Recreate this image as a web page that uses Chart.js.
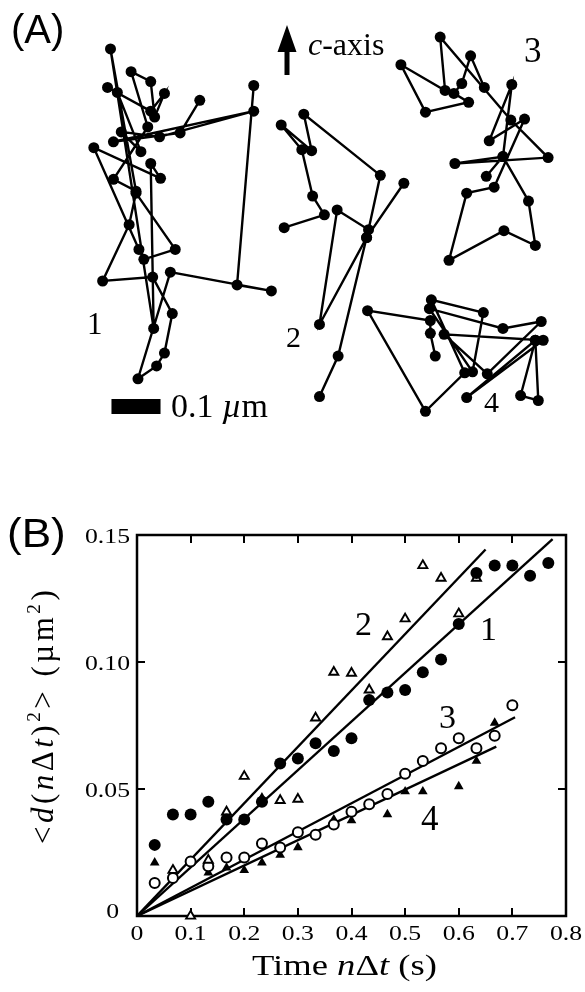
<!DOCTYPE html>
<html>
<head>
<meta charset="utf-8">
<script src="https://cdn.jsdelivr.net/npm/chart.js@4.4.1/dist/chart.umd.min.js"></script>
<style>
    html, body { margin: 0; padding: 0; background: #fff; }
    #wrap { position: relative; width: 585px; height: 992px; }
    canvas { position: absolute; left: 0; top: 0; }
</style>
</head>
<body>
<div id="wrap">
    <canvas id="tracks" width="585" height="992"></canvas>
    <canvas id="msd" width="585" height="992"></canvas>
</div>
<script>
// (A) single particle tracks, positions in nm (x across, y down the page)
const track1 = [[396,192],[356,258],[220,276],[506,214],[314,266],[236,256],[276,296],[228,176],[208,166],[296,214],
    [324,178],[304,226],[296,154],[256,134],[290,246],[220,352],[266,376],[214,88],[302,654],[296,320],[316,350],
    [180,288],[272,494],[282,514],[346,494],[266,380],[252,444],[198,558],[300,550],[340,624],[324,704],[308,730],
    [270,756],[336,540],[542,578],[472,566],[506,162]];
const track2 = [[568,450],[650,424],[626,386],[604,292],[562,242],[624,294],[608,220],[764,344],[740,454],[676,414],
    [640,646],[736,470],[812,360]];
const track2b = [[736,470],[678,710],[640,792]];
const track3 = [[976,166],[948,102],[930,158],[914,178],[944,196],[856,216],[806,120],[896,172],[886,64],[1030,232],
    [1106,308],[916,320],[1014,306],[1032,160],[986,274],[1058,230],[996,368],[940,380],[904,516],[1016,456],
    [1080,486],[1066,396],[1014,306],[980,346]];
const track4 = [[876,710],[866,664],[866,638],[738,618],[856,822],[936,744],[868,596],[974,622],[952,742],[864,614],
    [1014,654],[1092,640],[982,746],[894,666],[1096,678],[940,794],[1080,678],[1050,790],[1086,800],[1080,678]];
const scaleBarNm = 100;

// (B) mean square displacement vs time lag
const lagTimes = [0.033,0.067,0.100,0.133,0.167,0.200,0.233,0.267,0.300,0.333,0.367,0.400,
    0.433,0.467,0.500,0.533,0.567,0.600,0.633,0.667,0.700,0.733,0.767];
const msd1 = [0.028,0.040,0.040,0.045,0.038,0.038,0.045,0.060,0.062,0.068,0.065,0.070,
    0.085,0.088,0.089,0.096,0.101,0.115,0.135,0.138,0.138,0.134,0.139];
const msd2 = [null,0.018,0.000,0.022,0.041,0.055,0.046,0.0455,0.046,0.078,0.096,0.0956,
    0.089,0.110,0.117,0.138,0.133,0.119,0.133,null,null,null,null];
const msd3 = [0.013,0.015,0.0215,0.0196,0.023,0.023,0.0285,0.027,0.033,0.032,0.036,0.041,
    0.044,0.048,0.056,0.061,0.066,0.070,0.066,0.071,0.083,null,null];
const msd4 = [0.021,0.017,null,0.017,0.019,0.018,0.021,0.024,0.027,null,0.038,0.0376,
    null,0.040,0.049,0.049,null,0.051,0.061,0.076,null,null,null];
const fitSlope = [0.1915, 0.222, 0.111, 0.0995];
const fitEnd = [0.775, 0.65, 0.705, 0.67];

const SERIF = '"Liberation Serif", "Times New Roman", serif';
const SANS = '"Liberation Sans", Arial, sans-serif';

function drawRuns(ctx, runs, x, y, size, family, opts = {}) {
    ctx.save();
    ctx.translate(x, y);
    if (opts.rotate) ctx.rotate(opts.rotate);
    ctx.scale(opts.sx || 1, opts.sy || 1);
    ctx.fillStyle = '#000';
    ctx.textAlign = 'left';
    ctx.textBaseline = 'alphabetic';
    let cx = 0;
    runs.forEach(r => {
        const s = r.sup ? size * 0.62 : size;
        ctx.font = (r.it ? 'italic ' : '') + s + 'px ' + family;
        ctx.fillText(r.t, cx, r.sup ? -size * 0.42 : 0);
        cx += ctx.measureText(r.t).width + (opts.gap || 0);
    });
    ctx.restore();
}

function toPoints(track) {
    return track.map(p => ({x: p[0], y: p[1]}));
}

// ---------- panel A ----------
const trackDecor = {
    id: 'trackDecor',
    afterDraw(chart) {
        const ctx = chart.ctx;
        const xs = chart.scales.x;
        ctx.save();
        ctx.fillStyle = '#000';
        // c-axis arrow
        ctx.beginPath();
        ctx.moveTo(287, 25);
        ctx.lineTo(296.5, 52);
        ctx.lineTo(289.5, 52);
        ctx.lineTo(289.5, 75);
        ctx.lineTo(284.5, 75);
        ctx.lineTo(284.5, 52);
        ctx.lineTo(277.5, 52);
        ctx.closePath();
        ctx.fill();
        // scale bar
        const x0 = xs.getPixelForValue(216);
        const x1 = xs.getPixelForValue(216 + scaleBarNm);
        ctx.fillRect(x0, 399, x1 - x0, 15);
        ctx.restore();

        drawRuns(ctx, [{t: '(A)'}], 11, 43, 40, SANS);
        drawRuns(ctx, [{t: 'c', it: true}, {t: '-axis'}], 308, 55, 32, SERIF);
        drawRuns(ctx, [{t: '3'}], 524, 62, 35, SERIF);
        drawRuns(ctx, [{t: '1'}], 87, 334, 31, SERIF);
        drawRuns(ctx, [{t: '2'}], 286, 347, 30, SERIF);
        drawRuns(ctx, [{t: '4'}], 484, 412, 30, SERIF);
        drawRuns(ctx, [{t: '0.1 '}, {t: 'µ', it: true}, {t: 'm'}], 171, 417, 34, SERIF);
    }
};

const trackSets = [track1, track2, track2b, track3, track4].map(t => ({
    data: toPoints(t),
    showLine: true,
    borderColor: '#000',
    borderWidth: 2.4,
    pointRadius: 5.5,
    pointBackgroundColor: '#000',
    pointBorderWidth: 0,
    clip: false
}));

new Chart(document.getElementById('tracks'), {
    type: 'scatter',
    data: {datasets: trackSets},
    options: {
        responsive: false,
        animation: false,
        layout: {padding: {left: 0, right: 0, top: 0, bottom: 552}},
        plugins: {legend: {display: false}, tooltip: {enabled: false}},
        scales: {
            x: {display: false, min: 0, max: 1170},
            y: {display: false, min: 0, max: 880, reverse: true}
        }
    },
    plugins: [trackDecor]
});

// ---------- panel B ----------
function series(values, style) {
    const pts = [];
    values.forEach((v, i) => { if (v !== null) pts.push({x: lagTimes[i], y: v}); });
    return Object.assign({data: pts, showLine: false, order: 1, clip: false}, style);
}

const fitSets = fitSlope.map((k, i) => ({
    data: [{x: 0, y: 0}, {x: fitEnd[i], y: k * fitEnd[i]}],
    showLine: true,
    borderColor: '#000',
    borderWidth: 2.4,
    pointRadius: 0,
    order: 5
}));

const msdFrame = {
    id: 'msdFrame',
    beforeDatasetsDraw(chart) {
        const {ctx, chartArea: a, scales: {x, y}} = chart;
        ctx.save();
        ctx.strokeStyle = '#000';
        ctx.lineWidth = 2.5;
        ctx.strokeRect(a.left, a.top, a.right - a.left, a.bottom - a.top);
        ctx.lineWidth = 2;
        ctx.beginPath();
        x.ticks.forEach(t => {
            const px = Math.round(x.getPixelForValue(t.value));
            ctx.moveTo(px, a.bottom); ctx.lineTo(px, a.bottom - 8);
            ctx.moveTo(px, a.top); ctx.lineTo(px, a.top + 8);
        });
        y.ticks.forEach(t => {
            const py = Math.round(y.getPixelForValue(t.value));
            ctx.moveTo(a.left, py); ctx.lineTo(a.left + 8, py);
            ctx.moveTo(a.right, py); ctx.lineTo(a.right - 8, py);
        });
        ctx.stroke();

        ctx.fillStyle = '#000';
        ctx.font = '22px ' + SERIF;
        ctx.textBaseline = 'alphabetic';
        x.ticks.forEach(t => {
            const label = t.value === 0 ? '0' : t.value.toFixed(1);
            ctx.save();
            ctx.translate(x.getPixelForValue(t.value), a.bottom + 24);
            ctx.scale(1.17, 1);
            ctx.textAlign = 'center';
            ctx.fillText(label, 0, 0);
            ctx.restore();
        });
        y.ticks.forEach(t => {
            const label = t.value === 0 ? '0' : t.value.toFixed(2);
            const py = y.getPixelForValue(t.value);
            ctx.save();
            ctx.translate(t.value === 0 ? a.left - 18 : a.left - 7, t.value === 0 ? py + 2 : py + 8);
            ctx.scale(1.17, 1);
            ctx.textAlign = 'right';
            ctx.fillText(label, 0, 0);
            ctx.restore();
        });
        ctx.restore();

        drawRuns(ctx, [{t: '(B)'}], 7, 547, 40, SANS, {sx: 1.1});
        drawRuns(ctx, [{t: '2'}], 355, 635, 34, SERIF);
        drawRuns(ctx, [{t: '1'}], 480, 640, 34, SERIF);
        drawRuns(ctx, [{t: '3'}], 439, 728, 34, SERIF);
        drawRuns(ctx, [{t: '4'}], 421, 830, 35, SERIF);
        drawRuns(ctx, [{t: 'Time '}, {t: 'n', it: true}, {t: 'Δ'}, {t: 't', it: true}, {t: ' (s)'}],
            252, 975, 30, SERIF, {sx: 1.22});
        drawRuns(ctx, [{t: '<'}, {t: 'd', it: true}, {t: '('}, {t: 'n', it: true}, {t: 'Δ'}, {t: 't', it: true},
            {t: ')'}, {t: '2', sup: true}, {t: '>'}, {t: ' '}, {t: '('}, {t: 'µ'}, {t: 'm'}, {t: '2', sup: true}, {t: ')'}],
            53, 844, 31, SERIF, {rotate: -Math.PI / 2, gap: 3.5});
    }
};

new Chart(document.getElementById('msd'), {
    type: 'scatter',
    data: {
        datasets: [
            series(msd1, {pointStyle: 'circle', pointRadius: 6, pointBackgroundColor: '#000', pointBorderWidth: 0}),
            series(msd2, {pointStyle: 'triangle', pointRadius: 5.2, pointBackgroundColor: '#fff', pointBorderColor: '#000', pointBorderWidth: 1.9}),
            series(msd3, {pointStyle: 'circle', pointRadius: 5, pointBackgroundColor: '#fff', pointBorderColor: '#000', pointBorderWidth: 2}),
            series(msd4, {pointStyle: 'triangle', pointRadius: 5.6, pointBackgroundColor: '#000', pointBorderWidth: 0})
        ].concat(fitSets)
    },
    options: {
        responsive: false,
        animation: false,
        layout: {padding: {left: 137, right: 19, top: 535, bottom: 76}},
        plugins: {legend: {display: false}, tooltip: {enabled: false}},
        scales: {
            x: {
                type: 'linear', min: 0, max: 0.8,
                ticks: {stepSize: 0.1, display: false},
                grid: {display: false}, border: {display: false},
                afterFit: s => { s.height = 0; }
            },
            y: {
                type: 'linear', min: 0, max: 0.15,
                ticks: {stepSize: 0.05, display: false},
                grid: {display: false}, border: {display: false},
                afterFit: s => { s.width = 0; }
            }
        }
    },
    plugins: [msdFrame]
});
</script>
</body>
</html>
